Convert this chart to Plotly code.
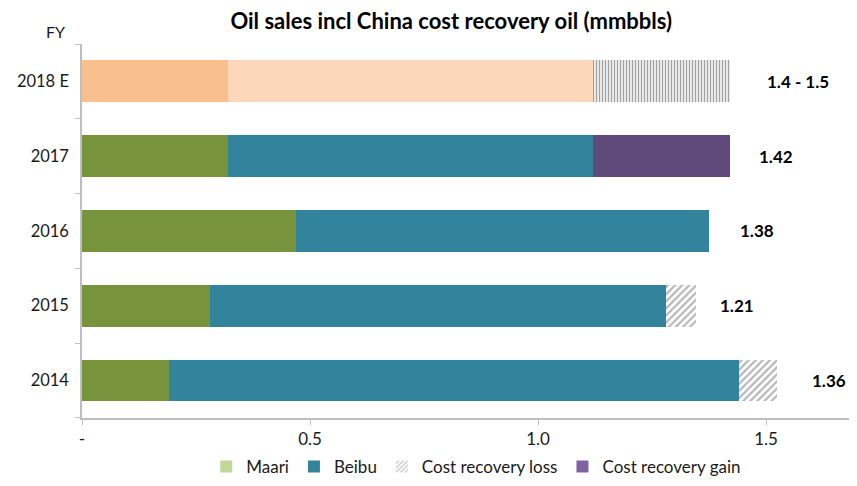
import plotly.graph_objects as go

years = ["2014", "2015", "2016", "2017", "2018 E"]
maari = [0.19, 0.28, 0.47, 0.32, 0.32]
beibu = [1.25, 1.00, 0.905, 0.80, 0.80]
loss = [0.085, 0.066, 0, 0, 0]
gain = [0, 0, 0, 0.30, 0.30]
total_labels = ["1.36", "1.21", "1.38", "1.42", "1.4 - 1.5"]
x_ticks = [0, 0.5, 1.0, 1.5]
x_tick_labels = ["-", "0.5", "1.0", "1.5"]

FONT = "Lato"
TXT = "#1a1a1a"

maari_cols = ["#77933C"] * 4 + ["#F9C08F"]
beibu_cols = ["#31849B"] * 4 + ["#FCD7B9"]
gain_cols = ["#604A7B"] * 4 + ["#FFFFFF"]
gain_shapes = ["", "", "", "", "|"]

fig = go.Figure()
fig.add_bar(y=years, x=maari, orientation="h", showlegend=False,
            marker=dict(color=maari_cols, line=dict(width=0)))
fig.add_bar(y=years, x=beibu, orientation="h", showlegend=False,
            marker=dict(color=beibu_cols, line=dict(width=0)))
fig.add_bar(y=years, x=loss, orientation="h", showlegend=False,
            marker=dict(color="#FFFFFF", line=dict(width=0),
                        pattern=dict(shape="/", fgcolor="#707070", bgcolor="#FFFFFF",
                                     size=5, solidity=0.45)))
fig.add_bar(y=years, x=gain, orientation="h", showlegend=False,
            marker=dict(color=gain_cols, line=dict(width=0),
                        pattern=dict(shape=gain_shapes, fgcolor="#FAC9A0", bgcolor="#FFFFFF",
                                     size=3, solidity=0.5)))

# legend-only entries (zero-length bars)
leg_y = [years[0]]
leg_x = [0]
fig.add_bar(y=leg_y, x=leg_x, orientation="h", name="Maari",
            marker=dict(color="#C3D69B", line=dict(width=0)))
fig.add_bar(y=leg_y, x=leg_x, orientation="h", name="Beibu",
            marker=dict(color="#31849B", line=dict(width=0)))
fig.add_bar(y=leg_y, x=leg_x, orientation="h", name="Cost recovery loss",
            marker=dict(color="#FFFFFF", line=dict(width=0),
                        pattern=dict(shape="/", fgcolor="#8C8C8C", bgcolor="#FFFFFF",
                                     size=4, solidity=0.4)))
fig.add_bar(y=leg_y, x=leg_x, orientation="h", name="Cost recovery gain",
            marker=dict(color="#8064A2", line=dict(width=0)))

shifts = [52, 41, 48, 46, 68]
annotations = []
for i, yv in enumerate(years):
    tot = maari[i] + beibu[i] + loss[i] + gain[i]
    annotations.append(dict(x=tot, y=i, xref="x", yref="y", text="<b>%s</b>" % total_labels[i],
                            showarrow=False, xanchor="center", xshift=shifts[i],
                            font=dict(family=FONT, size=17, color="#000000")))
annotations.append(dict(xref="x domain", yref="y domain", x=-0.050, y=1.065, text="FY",
                        showarrow=False, font=dict(family=FONT, size=16, color=TXT)))

# page body has an 8px margin: size the figure so the page does not overflow
fig.update_layout(
    width=841, height=470,
    margin=dict(l=74, r=0, t=36, b=51),
    paper_bgcolor="white", plot_bgcolor="white",
    barmode="stack", bargap=0.44,
    title=dict(text="<b>Oil sales incl China cost recovery oil (mmbbls)</b>",
               x=0.527, xanchor="center", y=0.972, yanchor="middle",
               font=dict(family=FONT, size=22, color="#000000")),
    font=dict(family=FONT, size=16, color=TXT),
    legend=dict(orientation="h", xref="paper", x=0.514, xanchor="center",
                yref="container", y=0.0234, yanchor="middle",
                font=dict(family=FONT, size=17, color=TXT), itemwidth=30,
                traceorder="normal", bgcolor="rgba(0,0,0,0)"),
    annotations=annotations,
)
fig.update_xaxes(range=[0, 767 / 456], tickvals=x_ticks, ticktext=x_tick_labels,
                 showgrid=False, zeroline=False, showline=True, linecolor="#BFBFBF", linewidth=1.5,
                 ticks="outside", ticklen=5, tickcolor="#BFBFBF",
                 tickfont=dict(family=FONT, size=17, color=TXT))
fig.update_yaxes(type="category", categoryorder="array", categoryarray=years, tickson="boundaries",
                 range=[-0.5, 4.5], ticklabelstandoff=8,
                 showgrid=False, zeroline=False, showline=True, linecolor="#BFBFBF", linewidth=1.5,
                 ticks="outside", ticklen=5, tickcolor="#BFBFBF",
                 tickfont=dict(family=FONT, size=16.5, color=TXT))

fig.write_html("out.html")
